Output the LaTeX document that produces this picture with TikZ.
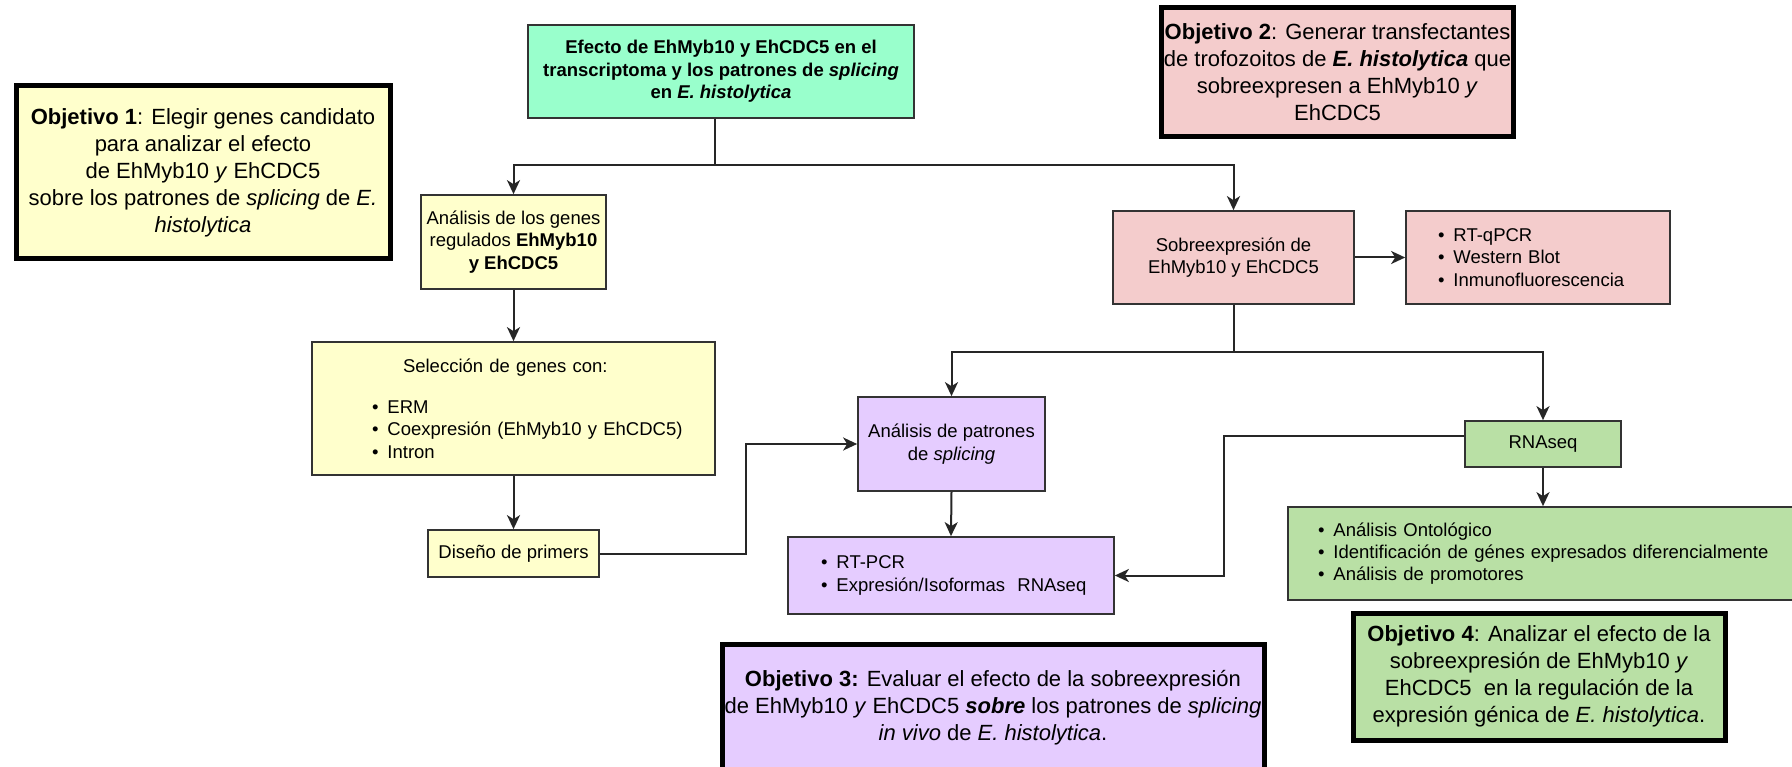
\documentclass[tikz,border=0pt]{standalone}
\usepackage{fontspec}
\setmainfont{Liberation Sans}
\usepackage{tikz}
\usetikzlibrary{arrows.meta}

\definecolor{menta}{HTML}{99FFCC}
\definecolor{crema}{HTML}{FFFFCC}
\definecolor{rosa}{HTML}{F4CCCC}
\definecolor{lila}{HTML}{E5CCFF}
\definecolor{verde}{HTML}{B9E0A5}
\definecolor{borde}{HTML}{333333}

\newcommand{\vineta}[2]{\hspace*{#1}\textbullet\hspace{9pt}#2}

\begin{document}
\begin{tikzpicture}[x=1pt,y=-1pt,
    caja/.style={draw=borde,line width=1.7pt,align=center,inner sep=3pt,
      font=\fontsize{18.5}{22.3}\selectfont},
    lista/.style={caja,align=left,inner xsep=0pt,text width=#1},
    objetivo/.style={draw=black,line width=5pt,align=center,inner sep=2pt,
      font=\fontsize{22}{27}\selectfont},
    flecha/.style={draw=black!85,line width=2pt,-{Stealth[length=14pt,width=13pt,inset=4pt]}}]

        \useasboundingbox[fill=white] (0,0) rectangle (1792,767);

        \node[objetivo,fill=crema,minimum width=374pt,minimum height=173pt] (obj1) at (203,172.5)
            {\textbf{Objetivo 1}: Elegir genes candidato\\para analizar el efecto\\de EhMyb10 \textit{y} EhCDC5\\sobre los patrones de \textit{splicing} de \textit{E.}\\\textit{histolytica}};
        \node[objetivo,fill=rosa,minimum width=351pt,minimum height=129pt] (obj2) at (1337.5,72.5)
            {\textbf{Objetivo 2}: Generar transfectantes\\de trofozoitos de \textbf{\textit{E. histolytica}} que\\sobreexpresen a EhMyb10 \textit{y}\\EhCDC5};
        \node[objetivo,fill=lila,minimum width=542pt,minimum height=128pt] (obj3) at (993,708)
            {\textbf{Objetivo 3:} Evaluar el efecto de la sobreexpresión\\de EhMyb10 \textit{y} EhCDC5 \textbf{\textit{sobre}} los patrones de \textit{splicing}\\\textit{in vivo} de \textit{E. histolytica}.};
        \node[objetivo,fill=verde,minimum width=372pt,minimum height=127pt] (obj4) at (1539,676.5)
            {\textbf{Objetivo 4}: Analizar el efecto de la\\sobreexpresión de EhMyb10 \textit{y}\\EhCDC5\ \ en la regulación de la\\expresión génica de \textit{E. histolytica}.};

        \node[caja,fill=menta,minimum width=386pt,minimum height=93pt,font=\fontsize{18.5}{22.5}\selectfont\bfseries] (efecto) at (721,71.5)
            {Efecto de EhMyb10 y EhCDC5 en el\\transcriptoma y los patrones de \textit{splicing}\\en \textit{E. histolytica}};

        \node[caja,fill=crema,minimum width=185pt,minimum height=94pt] (analisis) at (513.5,242)
            {Análisis de los genes\\regulados \textbf{EhMyb10}\\\textbf{y EhCDC5}};
        \node[lista=403pt,fill=crema,minimum height=133pt] (seleccion) at (513.5,408.5)
            {\hspace*{91pt}Selección de genes con:\\[19pt]
             \vineta{60pt}{ERM}\\
             \vineta{60pt}{Coexpresión (EhMyb10 y EhCDC5)}\\
             \vineta{60pt}{Intron}};
        \node[caja,fill=crema,minimum width=171pt,minimum height=47pt] (diseno) at (513.5,553.5)
            {Diseño de primers};

        \node[caja,fill=rosa,minimum width=241pt,minimum height=93pt] (sobre) at (1233.5,257.5)
            {Sobreexpresión de\\EhMyb10 y EhCDC5};
        \node[lista=264pt,fill=rosa,minimum height=93pt] (rtqpcr) at (1538,257.5)
            {\vineta{32pt}{RT-qPCR}\\\vineta{32pt}{Western Blot}\\\vineta{32pt}{Inmunofluorescencia}};

        \node[caja,fill=lila,minimum width=187pt,minimum height=94pt] (patrones) at (951.5,444)
            {Análisis de patrones\\de \textit{splicing}};
        \node[lista=326pt,fill=lila,minimum height=77pt] (rtpcr) at (951,575.5)
            {\vineta{33pt}{RT-PCR}\\\vineta{33pt}{Expresión/Isoformas\ \ RNAseq}};

        \node[caja,fill=verde,minimum width=156pt,minimum height=46pt] (rnaseq) at (1543,444)
            {RNAseq};
        \node[lista=512pt,fill=verde,minimum height=93pt] (resultados) at (1544,553.5)
            {\vineta{30pt}{Análisis Ontológico}\\\vineta{30pt}{Identificación de génes expresados diferencialmente}\\\vineta{30pt}{Análisis de promotores}};

        \draw[flecha] ([xshift=-6pt]efecto.south) -- ++(0,46) -| (analisis.north);
        \draw[flecha] ([xshift=-6pt]efecto.south) -- ++(0,46) -| (sobre.north);
        \draw[flecha] (analisis) -- (seleccion);
        \draw[flecha] (seleccion) -- (diseno);
        \draw[flecha] (diseno.east) -- ++(146,0) |- (patrones.west);
        \draw[flecha] (sobre) -- (rtqpcr);
        \draw[flecha] (sobre.south) -- ++(0,47) -| (patrones.north);
        \draw[flecha] (sobre.south) -- ++(0,47) -| (rnaseq.north);
        \draw[flecha] (patrones.south) -- (rtpcr.north);
        \draw[flecha] ([yshift=8pt]rnaseq.west) -- ++(-240,0) |- (rtpcr.east);
        \draw[flecha] (rnaseq) -- (rnaseq |- resultados.north);

\end{tikzpicture}
\end{document}
